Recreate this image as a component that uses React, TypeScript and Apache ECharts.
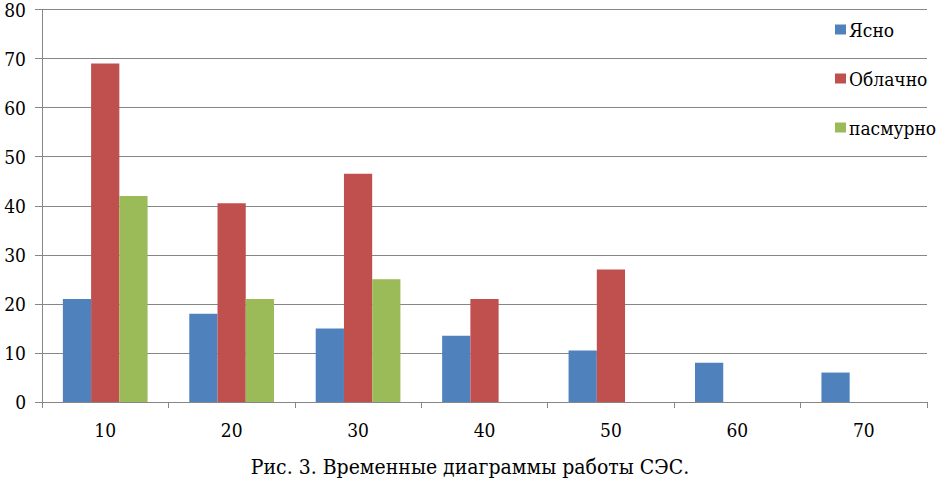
import React, { useEffect, useRef } from "react";
import * as echarts from "echarts";

const categories = ["10", "20", "30", "40", "50", "60", "70"];
const clear = [21, 18, 15, 13.5, 10.5, 8, 6];
const cloudy = [69, 40.5, 46.5, 21, 27, null, null];
const overcast = [42, 21, 25, null, null, null, null];
const seriesNames = ["Ясно", "Облачно", "пасмурно"];
const caption = "Рис. 3. Временные диаграммы работы СЭС.";

const FONT = "DejaVu Serif Condensed, DejaVu Serif, serif";

export default function App() {
  const ref = useRef<HTMLDivElement>(null);
  useEffect(() => {
    document.body.style.margin = "0";
    const chart = echarts.init(ref.current!, null, { renderer: "svg" });
    chart.setOption({
      animation: false,
      backgroundColor: "#ffffff",
      textStyle: { fontFamily: FONT },
      title: {
        text: caption,
        left: "center",
        top: 451,
        textStyle: { fontFamily: FONT, fontSize: 21, fontWeight: "normal", color: "#000" },
      },
      legend: {
        orient: "vertical",
        left: 830,
        top: 15,
        itemWidth: 11,
        itemHeight: 10,
        itemGap: 30,
        icon: "rect",
        textStyle: { fontFamily: FONT, fontSize: 19, color: "#000", lineHeight: 19, padding: [0, 0, 0, -2] },
        data: seriesNames,
      },
      grid: { left: 42, right: 13, top: 9, bottom: 81, containLabel: false },
      xAxis: {
        type: "category",
        data: categories,
        axisLine: { lineStyle: { color: "#868686", width: 1 } },
        axisTick: { show: true, length: 6, lineStyle: { color: "#868686" } },
        axisLabel: { fontFamily: FONT, fontSize: 19, color: "#000", margin: 18 },
      },
      yAxis: {
        type: "value",
        min: 0,
        max: 80,
        interval: 10,
        axisLine: { show: true, lineStyle: { color: "#868686", width: 1 } },
        axisTick: { show: true, length: 7, lineStyle: { color: "#868686" } },
        axisLabel: { fontFamily: FONT, fontSize: 19, color: "#000", margin: 16 },
        splitLine: { lineStyle: { color: "#868686", width: 1 } },
      },
      series: [
        { name: seriesNames[0], type: "bar", data: clear, itemStyle: { color: "#4F81BD" }, barGap: "0%", barCategoryGap: "33%" },
        { name: seriesNames[1], type: "bar", data: cloudy, itemStyle: { color: "#C0504D" }, barGap: "0%", barCategoryGap: "33%" },
        { name: seriesNames[2], type: "bar", data: overcast, itemStyle: { color: "#9BBB59" }, barGap: "0%", barCategoryGap: "33%" },
      ],
    });
    return () => chart.dispose();
  }, []);
  return <div ref={ref} style={{ width: 940, height: 483, position: "absolute", left: 0, top: 0 }} />;
}
